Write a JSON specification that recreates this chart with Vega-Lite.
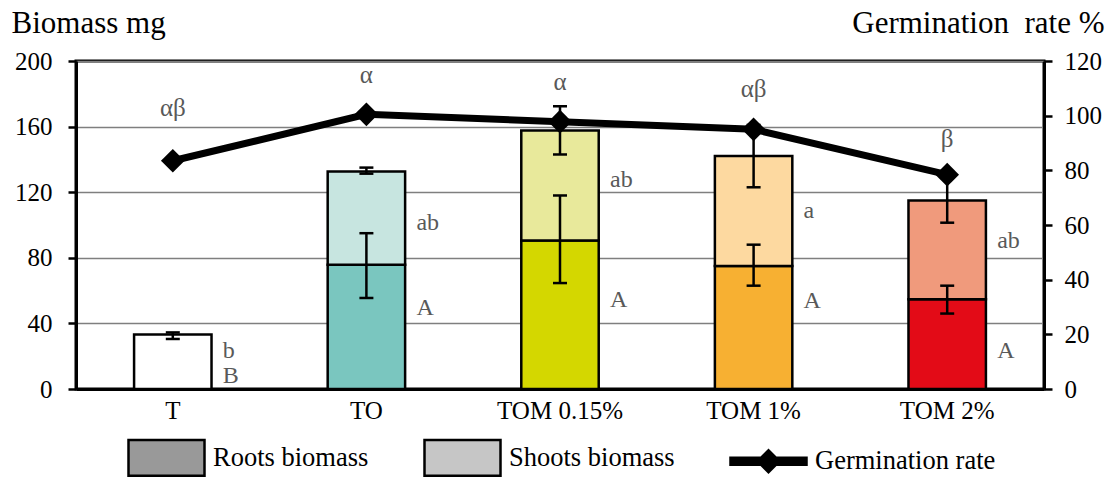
{
  "$schema": "https://vega.github.io/schema/vega-lite/v6.json",
  "width": 968,
  "height": 328,
  "autosize": {"type": "none"},
  "padding": {"left": 76, "top": 61, "right": 68, "bottom": 90},
  "background": "white",
  "config": {
    "view": {"stroke": "black", "strokeWidth": 3},
    "font": "Liberation Serif, Times New Roman, serif",
    "text": {"font": "Liberation Serif, Times New Roman, serif"},
    "axis": {
      "labelFont": "Liberation Serif, Times New Roman, serif",
      "titleFont": "Liberation Serif, Times New Roman, serif",
      "labelColor": "black",
      "titleColor": "black",
      "titleFontWeight": "normal",
      "domainColor": "black",
      "tickColor": "black"
    },
    "legend": {"labelFont": "Liberation Serif, Times New Roman, serif"}
  },
  "datasets": {
    "bars": [
      {"cat": "T", "part": "Shoots", "value": 33.2, "key": "T-Shoots"},
      {"cat": "TO", "part": "Roots", "value": 75.8, "key": "TO-Roots"},
      {"cat": "TO", "part": "Shoots", "value": 56.8, "key": "TO-Shoots"},
      {"cat": "TOM 0.15%", "part": "Roots", "value": 90.6, "key": "TOM 0.15%-Roots"},
      {"cat": "TOM 0.15%", "part": "Shoots", "value": 67, "key": "TOM 0.15%-Shoots"},
      {"cat": "TOM 1%", "part": "Roots", "value": 75, "key": "TOM 1%-Roots"},
      {"cat": "TOM 1%", "part": "Shoots", "value": 67, "key": "TOM 1%-Shoots"},
      {"cat": "TOM 2%", "part": "Roots", "value": 54.7, "key": "TOM 2%-Roots"},
      {"cat": "TOM 2%", "part": "Shoots", "value": 60.3, "key": "TOM 2%-Shoots"}
    ],
    "errors": [
      {"cat": "T", "lo": 30.5, "hi": 34.5},
      {"cat": "TO", "lo": 55.5, "hi": 95},
      {"cat": "TO", "lo": 131.3, "hi": 135},
      {"cat": "TOM 0.15%", "lo": 64.6, "hi": 118},
      {"cat": "TOM 0.15%", "lo": 143, "hi": 172.4},
      {"cat": "TOM 1%", "lo": 63, "hi": 88},
      {"cat": "TOM 1%", "lo": 123, "hi": 161},
      {"cat": "TOM 2%", "lo": 46, "hi": 63},
      {"cat": "TOM 2%", "lo": 101.4, "hi": 129}
    ],
    "letters": [
      {"cat": "T", "letter": "b", "ly": 19},
      {"cat": "T", "letter": "B", "ly": 3.7},
      {"cat": "TO", "letter": "ab", "ly": 96.7},
      {"cat": "TO", "letter": "A", "ly": 45},
      {"cat": "TOM 0.15%", "letter": "ab", "ly": 123},
      {"cat": "TOM 0.15%", "letter": "A", "ly": 50},
      {"cat": "TOM 1%", "letter": "a", "ly": 104},
      {"cat": "TOM 1%", "letter": "A", "ly": 49.3},
      {"cat": "TOM 2%", "letter": "ab", "ly": 85.8},
      {"cat": "TOM 2%", "letter": "A", "ly": 19}
    ],
    "germ": [
      {"cat": "T", "germ": 83.5, "greek": "αβ", "gy": 100},
      {"cat": "TO", "germ": 100.5, "greek": "α", "gy": 112},
      {"cat": "TOM 0.15%", "germ": 97.8, "greek": "α", "gy": 109.4},
      {"cat": "TOM 1%", "germ": 95, "greek": "αβ", "gy": 107},
      {"cat": "TOM 2%", "germ": 78.4, "greek": "β", "gy": 88.7}
    ],
    "legend": [
      {"item": "Roots biomass"},
      {"item": "Shoots biomass"},
      {"item": "Germination rate"}
    ]
  },
  "layer": [
    {
      "layer": [
        {
          "data": {"name": "bars"},
          "mark": {"type": "bar", "stroke": "black", "strokeWidth": 2.5},
          "encoding": {
            "x": {
              "field": "cat", "type": "nominal", "title": null,
              "scale": {"type": "band", "domain": ["T", "TO", "TOM 0.15%", "TOM 1%", "TOM 2%"], "paddingInner": 0.6, "paddingOuter": 0.3},
              "axis": {"labelAngle": 0, "ticks": false, "labelFont": "Liberation Serif, Times New Roman, serif", "labelFontSize": 25, "labelPadding": 9, "domainWidth": 3}
            },
            "y": {
              "field": "value", "type": "quantitative", "stack": "zero", "title": "Biomass mg",
              "scale": {"domain": [0, 200], "nice": false},
              "axis": {
                "orient": "left", "values": [0, 40, 80, 120, 160, 200],
                "grid": true, "gridColor": "#7f7f7f", "gridWidth": 1.5,
                "tickSize": 8, "tickWidth": 2.5, "domainWidth": 3,
                "labelFont": "Liberation Serif, Times New Roman, serif",
                "titleFont": "Liberation Serif, Times New Roman, serif",
                "labelFontSize": 25, "labelPadding": 16,
                "titleAngle": 0, "titleAlign": "left", "titleBaseline": "alphabetic",
                "titleX": -65, "titleY": -29, "titleFontSize": 31
              }
            },
            "fill": {
              "field": "key", "type": "nominal", "legend": null,
              "scale": {
                "domain": ["T-Shoots", "TO-Roots", "TO-Shoots", "TOM 0.15%-Roots", "TOM 0.15%-Shoots", "TOM 1%-Roots", "TOM 1%-Shoots", "TOM 2%-Roots", "TOM 2%-Shoots"],
                "range": ["#ffffff", "#7ac6bf", "#c7e5e0", "#d4d700", "#e8e99b", "#f7b032", "#fdd9a0", "#e30b17", "#f09a7c"]
              }
            },
            "order": {"field": "part", "sort": "ascending"}
          }
        },
        {
          "data": {"name": "errors"},
          "mark": {"type": "rule", "color": "black", "strokeWidth": 2.5},
          "encoding": {
            "x": {"field": "cat", "type": "nominal", "title": null},
            "y": {"field": "lo", "type": "quantitative", "title": "Biomass mg"},
            "y2": {"field": "hi"}
          }
        },
        {
          "data": {"name": "errors"},
          "mark": {"type": "tick", "color": "black", "thickness": 2.5, "size": 14, "opacity": 1},
          "encoding": {
            "x": {"field": "cat", "type": "nominal", "title": null},
            "y": {"field": "lo", "type": "quantitative", "title": "Biomass mg"}
          }
        },
        {
          "data": {"name": "errors"},
          "mark": {"type": "tick", "color": "black", "thickness": 2.5, "size": 14, "opacity": 1},
          "encoding": {
            "x": {"field": "cat", "type": "nominal", "title": null},
            "y": {"field": "hi", "type": "quantitative", "title": "Biomass mg"}
          }
        },
        {
          "data": {"name": "letters"},
          "mark": {"type": "text", "align": "left", "baseline": "alphabetic", "xOffset": 50, "fontSize": 24, "font": "Liberation Serif, Times New Roman, serif", "color": "#595959"},
          "encoding": {
            "x": {"field": "cat", "type": "nominal", "title": null},
            "y": {"field": "ly", "type": "quantitative", "title": "Biomass mg"},
            "text": {"field": "letter"}
          }
        }
      ]
    },
    {
      "layer": [
        {
          "data": {"name": "germ"},
          "mark": {
            "type": "line", "color": "black", "strokeWidth": 7, "strokeJoin": "miter",
            "point": {"shape": "diamond", "size": 560, "filled": true, "color": "black", "opacity": 1}
          },
          "encoding": {
            "x": {"field": "cat", "type": "nominal", "title": null},
            "y": {
              "field": "germ", "type": "quantitative", "title": "Germination\u00a0 rate %",
              "scale": {"domain": [0, 120], "nice": false},
              "axis": {
                "orient": "right", "values": [0, 20, 40, 60, 80, 100, 120],
                "grid": false, "tickSize": 8, "tickWidth": 2.5, "domainWidth": 3,
                "labelFont": "Liberation Serif, Times New Roman, serif",
                "titleFont": "Liberation Serif, Times New Roman, serif",
                "labelFontSize": 25, "labelPadding": 12,
                "titleAngle": 0, "titleAlign": "right", "titleBaseline": "alphabetic",
                "titleX": 60, "titleY": -29, "titleFontSize": 31
              }
            }
          }
        },
        {
          "data": {"name": "germ"},
          "mark": {"type": "text", "align": "center", "baseline": "alphabetic", "fontSize": 25, "font": "Liberation Serif, Times New Roman, serif", "color": "#595959"},
          "encoding": {
            "x": {"field": "cat", "type": "nominal", "title": null},
            "y": {"field": "gy", "type": "quantitative", "title": "Germination\u00a0 rate %"},
            "text": {"field": "greek"}
          }
        }
      ]
    },
    {
      "data": {"name": "legend"},
      "mark": {"type": "point", "filled": true, "opacity": 0},
      "encoding": {
        "color": {
          "field": "item", "type": "nominal",
          "scale": {"domain": ["Roots biomass", "Shoots biomass", "Germination rate"], "range": ["#999999", "#c6c6c6", "#000000"]},
          "legend": {
            "title": null, "orient": "none", "legendX": 51, "legendY": 357,
            "direction": "horizontal", "columnPadding": 50, "labelOffset": 7,
            "symbolSize": 5776, "labelFont": "Liberation Serif, Times New Roman, serif", "labelFontSize": 26.5,
            "labelColor": "black", "labelLimit": 400, "padding": 0,
            "symbolStrokeColor": "black", "symbolStrokeWidth": 2.5, "symbolOpacity": 1,
            "encode": {"symbols": {"update": {"opacity": {"value": 1}, "stroke": {"value": "black"}, "strokeWidth": {"value": 2.5}}}}
          }
        },
        "shape": {
          "field": "item", "type": "nominal",
          "scale": {
            "domain": ["Roots biomass", "Shoots biomass", "Germination rate"],
            "range": [
              "M-1,-0.47L1,-0.47L1,0.47L-1,0.47Z",
              "M-1,-0.47L1,-0.47L1,0.47L-1,0.47Z",
              "M-1,-0.09L-0.2,-0.09L0,-0.29L0.2,-0.09L1,-0.09L1,0.09L0.2,0.09L0,0.29L-0.2,0.09L-1,0.09Z"
            ]
          }
        }
      }
    }
  ],
  "resolve": {"scale": {"y": "independent"}}
}
